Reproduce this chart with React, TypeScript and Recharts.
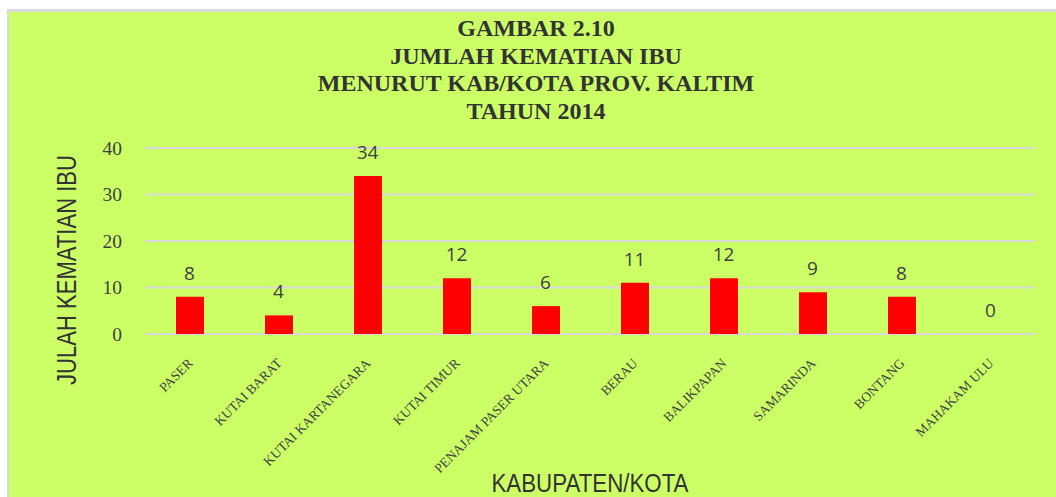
import { Bar, CartesianGrid, ComposedChart, Label, LabelList, Line, XAxis, YAxis } from "recharts";

const categories = [
  "PASER",
  "KUTAI BARAT",
  "KUTAI KARTANEGARA",
  "KUTAI TIMUR",
  "PENAJAM PASER UTARA",
  "BERAU",
  "BALIKPAPAN",
  "SAMARINDA",
  "BONTANG",
  "MAHAKAM ULU",
];
const deaths = [8, 4, 34, 12, 6, 11, 12, 9, 8, 0];
const yTicks = [0, 10, 20, 30, 40];
const titleLines = [
  "GAMBAR 2.10",
  "JUMLAH KEMATIAN IBU",
  "MENURUT KAB/KOTA PROV. KALTIM",
  "TAHUN 2014",
];

const data = categories.map((name, i) => ({ name, value: deaths[i] }));

const sans = "'Liberation Sans', Arial, sans-serif";
const serif = "'Liberation Serif', 'Times New Roman', serif";

function CategoryTick({ x, y, payload }: any) {
  return (
    <g transform={`translate(${x + 4},${y})`}>
      <text
        x={0}
        y={0}
        transform="rotate(-45)"
        textAnchor="end"
        fill="#404040"
        fontSize={13.5}
        fontFamily={serif}
      >
        {payload.value}
      </text>
    </g>
  );
}

function ValueTick({ x, y, payload }: any) {
  return (
    <text
      x={x}
      y={y}
      textAnchor="end"
      dominantBaseline="central"
      fill="#404040"
      fontSize={19.5}
      fontFamily={serif}
    >
      {payload.value}
    </text>
  );
}

// labels hang off an invisible line so the zero bar gets one too
function BarValue({ x, y, width, value }: any) {
  return (
    <text
      x={x + (width || 0) / 2}
      y={y - 17}
      textAnchor="middle"
      fill="#404040"
      fontSize={19}
      fontFamily="'Open Sans', sans-serif"
    >
      {value}
    </text>
  );
}

export default function App() {
  return (
    <div
      style={{
        position: "absolute",
        left: 7,
        top: 9,
        width: 1047,
        height: 485,
        background: "#CCFF66",
        borderLeft: "2px solid #d9d9d9",
        borderTop: "3px solid #d9d9d9",
        overflow: "hidden",
      }}
    >
      <div
        style={{
          position: "absolute",
          left: 0,
          top: 3,
          width: 1054,
          textAlign: "center",
          fontFamily: serif,
          fontWeight: "bold",
          fontSize: 24,
          lineHeight: "27.7px",
          color: "#333333",
        }}
      >
        {titleLines.map((t) => (
          <div key={t}>{t}</div>
        ))}
      </div>
      <ComposedChart
        width={1047}
        height={485}
        data={data}
        margin={{ top: 136, right: 21, left: 0, bottom: 0 }}
        barSize={28}
        style={{ position: "absolute", left: 0, top: 0 }}
      >
        <CartesianGrid vertical={false} stroke="#d9d9d9" strokeWidth={2} />
        <XAxis
          dataKey="name"
          height={163}
          axisLine={false}
          tickLine={false}
          interval={0}
          tickMargin={24}
          tick={<CategoryTick />}
        >
          <Label
            content={({ viewBox }: any) => (
              <text
                x={viewBox.x + viewBox.width / 2}
                y={viewBox.y + viewBox.height - 5}
                textAnchor="middle"
                textLength={197}
                lengthAdjust="spacingAndGlyphs"
                fill="#333333"
                fontSize={26}
                fontFamily={sans}
              >
                KABUPATEN/KOTA
              </text>
            )}
          />
        </XAxis>
        <YAxis
          width={136}
          domain={[0, 40]}
          ticks={yTicks}
          axisLine={false}
          tickLine={false}
          tickMargin={17}
          tick={<ValueTick />}
        >
          <Label
            content={() => (
              <text
                x={58}
                y={258}
                transform="rotate(-90 58 258)"
                textAnchor="middle"
                dominantBaseline="central"
                textLength={230}
                lengthAdjust="spacingAndGlyphs"
                fill="#333333"
                fontSize={27}
                fontFamily={sans}
              >
                JULAH KEMATIAN IBU
              </text>
            )}
          />
        </YAxis>
        <Bar dataKey="value" fill="#FF0000" isAnimationActive={false} />
        <Line
          dataKey="value"
          stroke="none"
          dot={false}
          activeDot={false}
          legendType="none"
          isAnimationActive={false}
        >
          <LabelList dataKey="value" content={<BarValue />} />
        </Line>
      </ComposedChart>
    </div>
  );
}
